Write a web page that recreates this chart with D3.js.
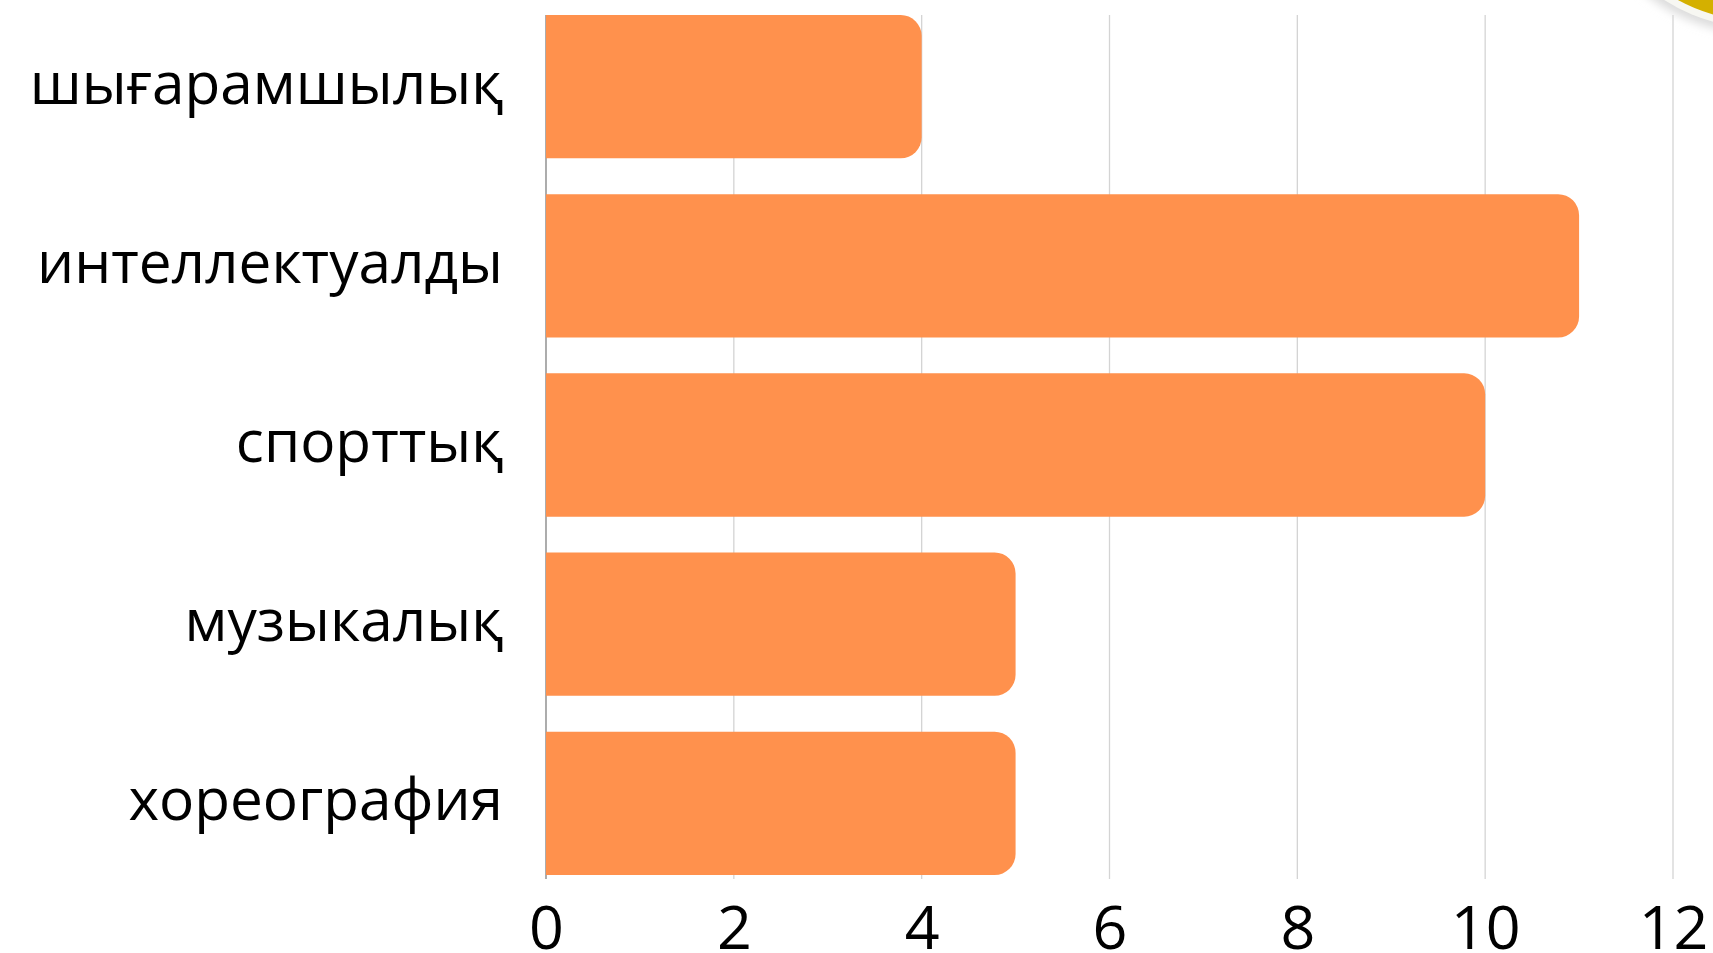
<!DOCTYPE html>
<html lang="kk">
<head>
    <meta charset="utf-8">
    <title>Үйірмелер</title>
    <script src="https://d3js.org/d3.v7.min.js"></script>
    <style>
        body, html {
            margin: 0;
            padding: 0;
            background: #ffffff;
            overflow: hidden;
        }
        text {
            font-family: "Open Sans", "Noto Sans", sans-serif;
            fill: #000000;
        }
    </style>
</head>
<body>
<div id="chart1"></div>

<script type="text/javascript">
    // Chart data
    var categories = ["шығарамшылық", "интеллектуалды", "спорттық", "музыкалық", "хореография"];
    var values = [4, 11, 10, 5, 5];
    var xTicks = [0, 2, 4, 6, 8, 10, 12];

    var w = 1713;
    var h = 953;

    var svg = d3.select("#chart1")
        .append("svg")
        .attr("width", w)
        .attr("height", h);

    // yellow decoration in the top right corner
    var defs = svg.append("defs");
    defs.append("filter")
        .attr("id", "soft")
        .attr("x", "-20%").attr("y", "-20%")
        .attr("width", "140%").attr("height", "140%")
        .append("feGaussianBlur")
        .attr("stdDeviation", 5);

    svg.append("circle")
        .attr("cx", 1760)
        .attr("cy", -150)
        .attr("r", 184)
        .attr("fill", "#dcdcdc")
        .attr("filter", "url(#soft)");
    svg.append("circle")
        .attr("cx", 1760)
        .attr("cy", -150)
        .attr("r", 178)
        .attr("fill", "#f7f7f2");
    svg.append("circle")
        .attr("cx", 1760)
        .attr("cy", -150)
        .attr("r", 171)
        .attr("fill", "#d4b000");

    // Scales
    var xScale = d3.scaleLinear()
        .domain([0, 12])
        .range([546, 1673]);

    var yScale = d3.scaleBand()
        .domain(categories)
        .range([15, 875])
        .paddingInner(0.2)
        .paddingOuter(0);

    // Gridlines
    svg.append("g")
        .selectAll("line")
        .data(xTicks.filter(function (d) { return d > 0; }))
        .enter()
        .append("line")
        .attr("x1", function (d) { return xScale(d); })
        .attr("x2", function (d) { return xScale(d); })
        .attr("y1", 15)
        .attr("y2", 879)
        .attr("stroke", "#d4d4d4")
        .attr("stroke-width", 1.3);

    // zero line
    svg.append("line")
        .attr("x1", xScale(0))
        .attr("x2", xScale(0))
        .attr("y1", 15)
        .attr("y2", 879)
        .attr("stroke", "#808080")
        .attr("stroke-width", 1.3);

    // Bars with rounded right ends
    var radius = 21;
    var barPath = function (d, i) {
        var x0 = xScale(0);
        var x1 = xScale(d);
        var y0 = yScale(categories[i]);
        var bh = yScale.bandwidth();
        var r = Math.min(radius, (x1 - x0) / 2, bh / 2);
        return "M" + x0 + "," + y0 +
            "H" + (x1 - r) +
            "A" + r + "," + r + " 0 0 1 " + x1 + "," + (y0 + r) +
            "V" + (y0 + bh - r) +
            "A" + r + "," + r + " 0 0 1 " + (x1 - r) + "," + (y0 + bh) +
            "H" + x0 + "Z";
    };

    svg.append("g")
        .selectAll("path")
        .data(values)
        .enter()
        .append("path")
        .attr("d", barPath)
        .attr("fill", "#ff914d");

    // Category labels
    var yAxis = d3.axisLeft(yScale).tickSize(0).tickPadding(0);
    var gy = svg.append("g")
        .attr("transform", "translate(503,0)")
        .call(yAxis);
    gy.select(".domain").remove();
    gy.selectAll("text")
        .attr("font-size", 58.5)
        .attr("font-family", "'Open Sans', 'Noto Sans', sans-serif")
        .attr("fill", "#000")
        .attr("dy", "0.29em");

    // Value axis
    var xAxis = d3.axisBottom(xScale).tickValues(xTicks).tickSize(0).tickPadding(0);
    var gx = svg.append("g")
        .attr("transform", "translate(0,949)")
        .call(xAxis);
    gx.select(".domain").remove();
    gx.selectAll("text")
        .attr("font-size", 61)
        .attr("font-family", "'Open Sans', 'Noto Sans', sans-serif")
        .attr("fill", "#000")
        .attr("dy", 0);
</script>
</body>
</html>
